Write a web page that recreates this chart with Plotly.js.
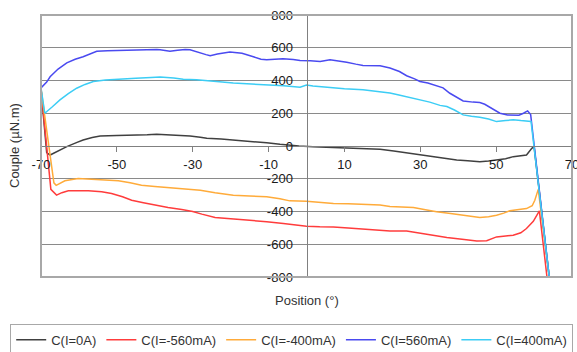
<!DOCTYPE html>
<html><head><meta charset="utf-8">
<script src="https://cdn.plot.ly/plotly-3.0.1.min.js"></script>
<style>html,body{margin:0;padding:0;background:#fff}#chart{width:577px;height:352px}</style>
</head><body><div id="chart"></div>
<script>
// Tick values and labels
const xTicks = [-70, -50, -30, -10, 10, 30, 50, 70];
const xTickText = ["-70", "-50", "-30", "-10", "10", "30", "50", "70"];
const yTicks = [-800, -600, -400, -200, 0, 200, 400, 600, 800];
const yTickText = ["-800", "-600", "-400", "-200", "0", "200", "400", "600", "800"];

// Series names
const names = ["C(I=0A)", "C(I=-560mA)", "C(I=-400mA)", "C(I=560mA)", "C(I=400mA)"];

// C(I=0A)
const x0A = [-70, -68.5, -67.6, -65.5, -63.2, -60.5, -58.9, -56.5, -54.4, -50, -45.7, -42, -39.5, -35, -30.7, -28, -26.3, -22.5, -19.4, -15, -10.5, -7, -5.2, -2, 1.7, 6, 10.6, 15, 19.4, 23, 26.4, 29.5, 32.6, 36, 39.6, 42.5, 45.7, 48, 50.1, 52.5, 54.5, 56.5, 58, 59.4, 60, 64];
const y0A = [350, -40, -55, -30, -4, 22, 37, 52, 61, 64, 65, 68, 72, 67, 61, 54, 47, 42, 37, 28, 20, 10, 6, 0, -4, -9, -14, -17, -20, -30, -42, -52, -62, -75, -86, -90, -96, -92, -86, -78, -65, -60, -55, -14, -4, -800];

// C(I=-560mA)
const xM560 = [-70, -67.4, -65.9, -64.5, -62.8, -60, -57.5, -54, -51.4, -48.5, -46.1, -43, -39.9, -36.5, -32.9, -30, -27.6, -24.1, -20, -14.9, -10.5, -6.1, -2.5, 0, 3.5, 7.1, 11, 15.9, 19.4, 22, 26.4, 29.5, 32.6, 37, 41, 44.9, 47.5, 50.1, 52.5, 54.5, 56.5, 58, 59.8, 61.4, 63.4];
const yM560 = [350, -265, -300, -285, -274, -272, -274, -280, -290, -310, -331, -346, -361, -375, -388, -400, -416, -437, -445, -453, -462, -473, -482, -490, -493, -494, -500, -510, -514, -519, -519, -530, -545, -559, -570, -580, -578, -555, -550, -545, -530, -504, -460, -396, -800];

// C(I=-400mA)
const xM400 = [-70, -66.6, -66, -63.7, -60.2, -57, -54, -49.6, -46.5, -43.5, -40, -36.4, -31.2, -28, -24.1, -19.3, -15, -10.5, -7, -4.4, 0, 3.5, 7.1, 11, 15.9, 19.4, 22, 25, 28.2, 31, 34.3, 38, 41.3, 43.5, 45.7, 48, 50.1, 52, 53.6, 56, 58, 59.5, 60.2, 61.1, 64];
const yM400 = [350, -225, -240, -212, -198, -202, -208, -212, -225, -239, -247, -253, -265, -270, -286, -300, -305, -310, -322, -335, -337, -345, -351, -353, -357, -361, -370, -372, -375, -388, -402, -412, -423, -430, -437, -432, -423, -410, -396, -388, -382, -365, -331, -265, -800];

// C(I=560mA)
const xP560 = [-70, -68.5, -67.6, -65.5, -63.2, -61, -58.9, -57, -55.3, -52.5, -50, -46, -42, -39.5, -38.6, -37, -36, -34, -32, -30.7, -28.5, -26.5, -25.4, -23.5, -20.2, -17, -14, -12, -10.5, -6.2, -3.5, -1.7, 1, 3.6, 6.2, 8.5, 10.6, 13, 14.9, 19.4, 22, 24.5, 26.4, 28.5, 29.9, 32, 34.3, 36, 37.8, 39, 41.3, 43.9, 45.7, 47, 48.4, 49.5, 51, 53, 54.5, 56, 57.2, 58.3, 59.1, 64];
const yP560 = [355, 390, 423, 470, 508, 530, 545, 565, 578, 582, 584, 588, 592, 590, 588, 582, 578, 585, 590, 588, 570, 558, 551, 562, 574, 566, 545, 530, 527, 533, 528, 522, 520, 516, 527, 520, 512, 500, 492, 490, 476, 455, 429, 410, 394, 385, 370, 355, 322, 305, 275, 268, 265, 255, 237, 220, 200, 190, 190, 188, 200, 214, 192, -800];

// C(I=400mA)
const xP400 = [-70, -69, -67, -65, -62.8, -60.6, -58.4, -56.2, -53, -50, -45, -41, -38.6, -35, -32.5, -29, -26.3, -23, -19.3, -15, -10.5, -6, -1.7, 0, 1.7, 4, 7.1, 10, 14.9, 19.4, 22, 23.8, 27, 29.9, 32.5, 35.2, 37, 39, 41.3, 43.5, 45.7, 48, 50.1, 52.5, 54.5, 56.5, 58.4, 59.2, 64];
const yP400 = [355, 200, 240, 282, 320, 353, 376, 394, 403, 408, 414, 418, 421, 415, 408, 404, 400, 392, 384, 380, 374, 368, 359, 372, 367, 362, 353, 350, 343, 332, 323, 314, 298, 285, 268, 248, 241, 220, 190, 182, 176, 165, 149, 155, 160, 155, 149, 150, -800];

const colors = ["#404040", "#ff3c3c", "#ffab3a", "#4a4af0", "#3ccdf5"];
const xs = [x0A, xM560, xM400, xP560, xP400];
const ys = [y0A, yM560, yM400, yP560, yP400];

const traces = names.map((n, i) => ({
  type: "scatter", mode: "lines", name: n,
  x: xs[i], y: ys[i],
  line: {color: colors[i], width: 1.5}
}));

const font = {family: "Liberation Sans, Arial, sans-serif", size: 13, color: "#333"};
const tickFont = {family: "Liberation Sans, Arial, sans-serif", size: 13, color: "#1a1a1a"};

const layout = {
  width: 577, height: 352,
  margin: {l: 41, r: 5, t: 15, b: 75, autoexpand: false},
  paper_bgcolor: "#fff", plot_bgcolor: "#fff",
  font: font,
  showlegend: true,
  xaxis: {
    range: [-70, 70], tickmode: "array", tickvals: xTicks, ticktext: xTickText,
    showgrid: false, zeroline: false,
    showline: true, linecolor: "#808080", linewidth: 1,
    ticks: "outside", ticklen: 5, tickcolor: "#808080",
    anchor: "free", position: 0.5, ticklabelstandoff: 1,
    ticklabeloverflow: "allow",
    tickfont: tickFont
  },
  yaxis: {
    range: [-800, 800], tickmode: "array", tickvals: yTicks, ticktext: yTickText,
    showgrid: true, gridcolor: "#8a8a8a", gridwidth: 1, zeroline: false,
    showline: true, linecolor: "#808080", linewidth: 1,
    ticks: "outside", ticklen: 8, tickcolor: "#8a8a8a",
    anchor: "free", position: 0.5, ticklabelstandoff: 3,
    ticklabeloverflow: "allow",
    tickfont: tickFont
  },
  shapes: [{
    type: "rect", xref: "paper", yref: "paper", x0: 0, x1: 1, y0: 0, y1: 1,
    line: {color: "#a8a8a8", width: 2}, layer: "above"
  }],
  annotations: [
    {text: "Couple (µN.m)", xref: "paper", yref: "paper", x: 0, y: 0.5,
     xanchor: "center", yanchor: "middle", xshift: -27, textangle: -90,
     showarrow: false, font: font},
    {text: "Position (°)", xref: "paper", yref: "paper", x: 0.5, y: 0,
     xanchor: "center", yanchor: "middle", yshift: -23,
     showarrow: false, font: font}
  ],
  legend: {
    orientation: "h", x: -0.058, xanchor: "left", y: -0.179, yanchor: "top",
    bgcolor: "#fff", bordercolor: "#a8a8a8", borderwidth: 1,
    font: font, traceorder: "normal"
  }
};

Plotly.newPlot("chart", traces, layout, {displayModeBar: false, staticPlot: true});
</script>
</body></html>
